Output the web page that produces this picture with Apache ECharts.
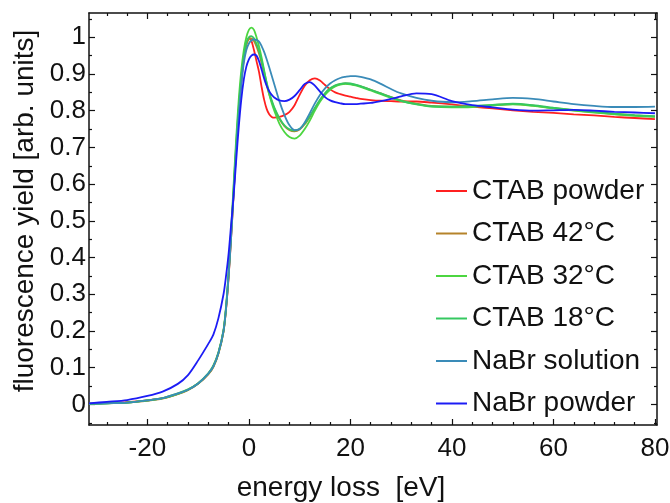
<!DOCTYPE html>
<html>
<head>
<meta charset="utf-8">
<title>fluorescence yield</title>
<script src="https://cdn.jsdelivr.net/npm/echarts@6/dist/echarts.min.js"></script>
<style>
  html, body { margin: 0; padding: 0; background: #fff; }
  #chart { width: 670px; height: 503px; }
</style>
</head>
<body>
<div id="chart"></div>
<script>
// energy loss grid [eV]
const energy = [-31.5, -28, -24, -20, -17, -14, -12, -10, -8, -7, -6, -5, -4.5, -4, -3.5, -3, -2.5, -2, -1.5, -1,
  -0.5, 0, 0.5, 1, 1.5, 2, 2.5, 3, 3.5, 4, 4.5, 5, 6, 7, 8, 9, 10, 11, 12, 13,
  14, 15, 16, 17, 18, 19, 20, 21, 22, 24, 26, 28, 30, 33, 36, 40, 44, 48, 52, 56,
  60, 64, 68, 72, 76, 80]

const ctabPowder = [0.002, 0.004, 0.006, 0.011, 0.017, 0.029, 0.04, 0.057, 0.083, 0.104, 0.14, 0.2, 0.26, 0.345, 0.455, 0.575, 0.695, 0.8, 0.88, 0.94,
  0.98, 0.999, 0.99, 0.965, 0.935, 0.905, 0.865, 0.83, 0.805, 0.79, 0.783, 0.781, 0.783, 0.788, 0.797, 0.815, 0.843, 0.868, 0.883, 0.888,
  0.882, 0.87, 0.858, 0.85, 0.845, 0.841, 0.838, 0.835, 0.832, 0.829, 0.827, 0.826, 0.825, 0.825, 0.822, 0.817, 0.811, 0.806, 0.801, 0.797,
  0.794, 0.79, 0.787, 0.783, 0.78, 0.777]

const ctab42 = [0.001, 0.003, 0.005, 0.01, 0.016, 0.028, 0.039, 0.056, 0.082, 0.102, 0.138, 0.198, 0.26, 0.35, 0.46, 0.58, 0.7, 0.8, 0.88, 0.945,
  0.98, 0.995, 0.997, 0.99, 0.975, 0.955, 0.93, 0.9, 0.87, 0.845, 0.825, 0.806, 0.778, 0.758, 0.747, 0.744, 0.749, 0.763, 0.783, 0.806,
  0.828, 0.846, 0.86, 0.868, 0.872, 0.874, 0.873, 0.87, 0.866, 0.857, 0.847, 0.837, 0.828, 0.819, 0.813, 0.811, 0.812, 0.815, 0.818, 0.814,
  0.807, 0.801, 0.796, 0.791, 0.787, 0.784]

const ctab32 = [0.002, 0.003, 0.005, 0.011, 0.017, 0.03, 0.041, 0.058, 0.085, 0.106, 0.142, 0.203, 0.268, 0.36, 0.475, 0.6, 0.725, 0.83, 0.91, 0.965,
  1.0, 1.02, 1.026, 1.02, 1.0, 0.975, 0.945, 0.91, 0.875, 0.845, 0.82, 0.8, 0.765, 0.742, 0.728, 0.724, 0.732, 0.75, 0.773, 0.8,
  0.824, 0.843, 0.857, 0.866, 0.871, 0.873, 0.872, 0.869, 0.865, 0.855, 0.845, 0.835, 0.826, 0.817, 0.811, 0.809, 0.81, 0.814, 0.817, 0.813,
  0.806, 0.8, 0.795, 0.79, 0.786, 0.783]

const ctab18 = [0.001, 0.003, 0.005, 0.011, 0.017, 0.029, 0.04, 0.057, 0.084, 0.104, 0.14, 0.2, 0.264, 0.355, 0.465, 0.59, 0.71, 0.81, 0.89, 0.95,
  0.985, 1.0, 1.003, 0.997, 0.982, 0.962, 0.937, 0.907, 0.877, 0.85, 0.828, 0.809, 0.78, 0.76, 0.749, 0.746, 0.751, 0.765, 0.785, 0.808,
  0.83, 0.848, 0.861, 0.869, 0.873, 0.875, 0.874, 0.871, 0.867, 0.857, 0.847, 0.837, 0.827, 0.818, 0.812, 0.811, 0.813, 0.816, 0.819, 0.815,
  0.808, 0.802, 0.797, 0.792, 0.788, 0.785]

const nabrSolution = [0.002, 0.003, 0.005, 0.011, 0.017, 0.03, 0.04, 0.057, 0.084, 0.104, 0.14, 0.2, 0.262, 0.35, 0.455, 0.575, 0.69, 0.79, 0.87, 0.93,
  0.965, 0.983, 0.991, 0.994, 0.993, 0.988, 0.976, 0.96, 0.94, 0.918, 0.895, 0.872, 0.826, 0.788, 0.76, 0.747, 0.75, 0.768, 0.793, 0.82,
  0.843, 0.861, 0.874, 0.883, 0.889, 0.892, 0.894, 0.894, 0.892, 0.885, 0.873, 0.859, 0.847, 0.835, 0.827, 0.823, 0.826, 0.831, 0.835, 0.832,
  0.825, 0.818, 0.813, 0.81, 0.81, 0.811]

const nabrPowder = [0.003, 0.007, 0.012, 0.023, 0.035, 0.056, 0.08, 0.12, 0.165, 0.19, 0.235, 0.3, 0.35, 0.41, 0.49, 0.57, 0.665, 0.755, 0.83, 0.885,
  0.92, 0.94, 0.95, 0.953, 0.95, 0.935, 0.912, 0.888, 0.868, 0.853, 0.843, 0.836, 0.828, 0.826, 0.83, 0.84, 0.856, 0.873, 0.878, 0.868,
  0.852, 0.837, 0.828, 0.823, 0.82, 0.818, 0.818, 0.818, 0.819, 0.821, 0.826, 0.832, 0.839, 0.847, 0.845, 0.826, 0.815, 0.809, 0.803, 0.8,
  0.801, 0.802, 0.8, 0.797, 0.795, 0.793]

const seriesNames = ['CTAB powder', 'CTAB 42°C', 'CTAB 32°C', 'CTAB 18°C', 'NaBr solution', 'NaBr powder']
const seriesValues = [ctabPowder, ctab42, ctab32, ctab18, nabrSolution, nabrPowder]
const seriesColors = ['#ff2020', '#b5832a', '#4cd640', '#35c860', '#3a8bb8', '#1c1cf5']

// tick positions and labels
const xMajor = [-20, 0, 20, 40, 60, 80]
const xMinor = [-28, -24, -16, -12, -8, -4, 4, 8, 12, 16, 24, 28, 32, 36, 44, 48, 52, 56, 64, 68, 72, 76]
const yMajor = [0, 0.1, 0.2, 0.3, 0.4, 0.5, 0.6, 0.7, 0.8, 0.9, 1]
const yMinor = [-0.05, 0.05, 0.15, 0.25, 0.35, 0.45, 0.55, 0.65, 0.75, 0.85, 0.95, 1.05]

const FONT = 'Liberation Sans'
const INK = '#111'
const xRange = { min: -31.5, max: 80.4 }
const yRange = { min: -0.056, max: 1.066 }

// one tick layer of the frame (labels only on the main axes)
function tickAxis(range, position, ticks, len, withLine) {
  return {
    type: 'value',
    position: position,
    min: range.min,
    max: range.max,
    splitLine: { show: false },
    axisLine: { show: withLine, onZero: false, lineStyle: { color: INK, width: 1.5 } },
    axisTick: { show: true, inside: true, length: len, customValues: ticks, lineStyle: { color: INK, width: 1.2 } },
    axisLabel: { show: false }
  }
}

const chart = echarts.init(document.getElementById('chart'), null, { renderer: 'canvas' })

const xMain = tickAxis(xRange, 'bottom', xMajor, 6, true)
xMain.axisLabel = { show: true, customValues: xMajor, fontFamily: FONT, fontSize: 26, color: INK, margin: 11 }
xMain.name = 'energy loss  [eV]'
xMain.nameLocation = 'middle'
xMain.nameGap = 49
xMain.nameTextStyle = { fontFamily: FONT, fontSize: 28, color: INK, padding: [0, 64, 0, 0] }

const yMain = tickAxis(yRange, 'left', yMajor, 6, true)
yMain.axisLabel = { show: true, customValues: yMajor, fontFamily: FONT, fontSize: 26, color: INK, margin: 3 }
yMain.name = 'fluorescence yield [arb. units]'
yMain.nameLocation = 'middle'
yMain.nameGap = 50
yMain.nameTextStyle = { fontFamily: FONT, fontSize: 28, color: INK, padding: [0, 0, 0, 16] }

const option = {
  backgroundColor: '#fff',
  animation: false,
  grid: { left: 89, right: 13, top: 13, bottom: 78, outerBoundsMode: 'none', containLabel: false },
  legend: {
    orient: 'vertical',
    left: 436,
    top: 177,
    padding: 0,
    icon: 'rect',
    itemWidth: 31,
    itemHeight: 2,
    itemGap: 14.5,
    data: seriesNames,
    textStyle: { fontFamily: FONT, fontSize: 28, color: INK, lineHeight: 28 }
  },
  xAxis: [
    xMain,
    tickAxis(xRange, 'bottom', xMinor, 3, false),
    tickAxis(xRange, 'top', xMajor, 6, true),
    tickAxis(xRange, 'top', xMinor, 3, false)
  ],
  yAxis: [
    yMain,
    tickAxis(yRange, 'left', yMinor, 3, false),
    tickAxis(yRange, 'right', yMajor, 6, true),
    tickAxis(yRange, 'right', yMinor, 3, false)
  ],
  series: seriesNames.map((name, k) => ({
    name: name,
    type: 'line',
    xAxisIndex: 0,
    yAxisIndex: 0,
    data: energy.map((e, i) => [e, seriesValues[k][i]]),
    smooth: 0.3,
    showSymbol: false,
    symbol: 'none',
    color: seriesColors[k],
    lineStyle: { width: 1.8, color: seriesColors[k] }
  }))
}

chart.setOption(option)
</script>
</body>
</html>
